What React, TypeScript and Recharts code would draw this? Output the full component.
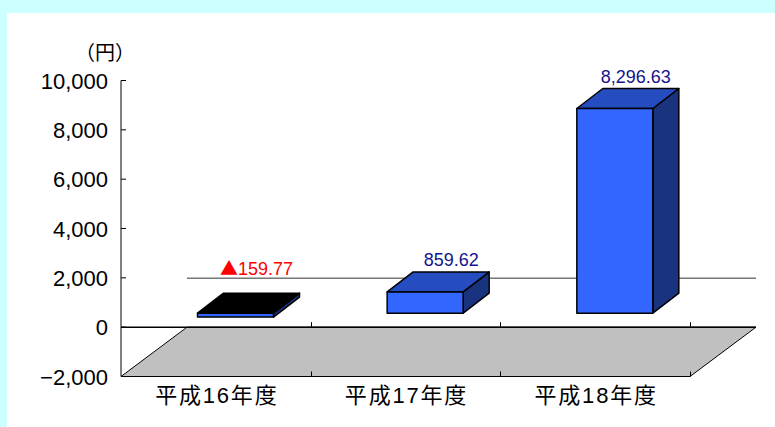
import {
  BarChart,
  Bar,
  XAxis,
  YAxis,
  ReferenceArea,
  LabelList,
} from "recharts";

const years = ["平成16年度", "平成17年度", "平成18年度"];
const profits = [-159.77, 859.62, 8296.63];
const yTicks = [-2000, 0, 2000, 4000, 6000, 8000, 10000];

const data = years.map((year, i) => ({ year, value: profits[i] }));

const FONT = '"Liberation Sans", "Noto Sans CJK JP", sans-serif';

// offset of the whole floor from front edge to back edge
const FLOOR_DX = 66;
const FLOOR_DY = 49;
// bars stand part way into the floor
const BAR_SHIFT_X = 19.5;
const BAR_SHIFT_Y = 14;
// depth of a single box
const BOX_DX = 26;
const BOX_DY = 20;

const FRONT = "#3366FF";
const TOP = "#264DBF";
const SIDE = "#19337F";

function Floor(props: any) {
  const { x, y, width, height } = props;
  const step = width / years.length;
  const right = x + width;
  const bottom = y + height;
  return (
    <g>
      <line
        x1={x + FLOOR_DX}
        y1={y - FLOOR_DY}
        x2={right + FLOOR_DX}
        y2={y - FLOOR_DY}
        stroke="#333"
        strokeWidth={1}
      />
      <polygon
        points={`${x},${bottom} ${right},${bottom} ${right + FLOOR_DX},${y} ${x + FLOOR_DX},${y}`}
        fill="#C0C0C0"
        stroke="#000"
        strokeWidth={1}
      />
      <line x1={x} y1={y} x2={right + FLOOR_DX} y2={y} stroke="#000" strokeWidth={1.5} />
      {years.map((year, i) => {
        const tx = Math.round(x + step * (i + 1)) + 0.5;
        return (
          <g key={year} stroke="#000" strokeWidth={1}>
            <line x1={tx} y1={y} x2={tx} y2={y - 5} />
            <line x1={tx} y1={bottom} x2={tx} y2={bottom - 5} />
          </g>
        );
      })}
    </g>
  );
}

function Box(props: any) {
  const { x, y, width, height, payload } = props;
  const negative = payload.value < 0;
  const left = x + BAR_SHIFT_X;
  const right = left + width;
  const top = Math.min(y, y + height) - BAR_SHIFT_Y;
  const bottom = Math.max(y, y + height) - BAR_SHIFT_Y;
  return (
    <g stroke="#000" strokeWidth={1.5} strokeLinejoin="round">
      <polygon
        points={`${right},${top} ${right + BOX_DX},${top - BOX_DY} ${right + BOX_DX},${bottom - BOX_DY} ${right},${bottom}`}
        fill={SIDE}
      />
      <polygon
        points={`${left},${top} ${left + BOX_DX},${top - BOX_DY} ${right + BOX_DX},${top - BOX_DY} ${right},${top}`}
        fill={negative ? "#000" : TOP}
      />
      <rect x={left} y={top} width={width} height={bottom - top} fill={FRONT} />
    </g>
  );
}

function ValueLabel(props: any) {
  const { x, y, width, height, value } = props;
  const negative = value < 0;
  const cx = x + BAR_SHIFT_X + BOX_DX + width / 2;
  const top = Math.min(y, y + height) - BAR_SHIFT_Y - BOX_DY;
  return (
    <text
      x={negative || value >= 1000 ? cx - 5 : cx}
      y={negative ? top - 18 : top - 6}
      textAnchor="middle"
      fontFamily={FONT}
      fontSize={18}
      fill={negative ? "#FF0000" : "#14148C"}
    >
      {negative ? (
        <>
          <tspan fontFamily='"Noto Sans CJK JP"'>▲</tspan>
          {Math.abs(value).toFixed(2)}
        </>
      ) : (
        value.toLocaleString("en-US", { minimumFractionDigits: 2 })
      )}
    </text>
  );
}

function YTick(props: any) {
  const { x, y, payload } = props;
  return (
    <g>
      <line x1={x + 13} y1={y} x2={x + 18} y2={y} stroke="#000" />
      <text
        x={x}
        y={y + 8}
        textAnchor="end"
        fontFamily={FONT}
        fontSize={22}
        fill="#000"
      >
        {payload.value.toLocaleString("en-US").replace("-", "−")}
      </text>
    </g>
  );
}

function XTick(props: any) {
  const { x, y, payload } = props;
  return (
    <text
      x={x + 1}
      y={y + 18}
      textAnchor="middle"
      fontFamily={FONT}
      fontSize={22}
      letterSpacing={1.8}
      fill="#000"
    >
      {payload.value}
    </text>
  );
}

export default function App() {
  return (
    <div
      style={{
        position: "absolute",
        left: 0,
        top: 0,
        width: 775,
        height: 427,
        overflow: "hidden",
        background: "#CCFFFF",
      }}
    >
      <div
        style={{
          position: "absolute",
          left: 7,
          top: 13,
          right: 0,
          bottom: 0,
          background: "#FFF",
        }}
      />
      <div
        style={{
          position: "absolute",
          left: 75,
          top: 41,
          fontFamily: FONT,
          fontSize: 20,
          lineHeight: "24px",
          color: "#000",
        }}
      >
        （円）
      </div>
      <div style={{ position: "absolute", left: 0, top: 0 }}>
        <BarChart
          width={775}
          height={427}
          data={data}
          margin={{ top: 80.5, right: 85, bottom: 20.5, left: 61 }}
          barSize={76}
        >
          <ReferenceArea y1={-2000} y2={0} shape={<Floor />} />
          <XAxis
            dataKey="year"
            height={30}
            axisLine={{ stroke: "#000", strokeWidth: 1 }}
            tickLine={false}
            tick={<XTick />}
            interval={0}
          />
          <YAxis
            width={60}
            domain={[-2000, 10000]}
            ticks={yTicks}
            axisLine={{ stroke: "#000", strokeWidth: 1 }}
            tickLine={false}
            tickSize={0}
            tickMargin={13}
            tick={<YTick />}
            interval={0}
          />
          <Bar dataKey="value" isAnimationActive={false} shape={<Box />}>
            <LabelList dataKey="value" content={<ValueLabel />} />
          </Bar>
        </BarChart>
      </div>
    </div>
  );
}
